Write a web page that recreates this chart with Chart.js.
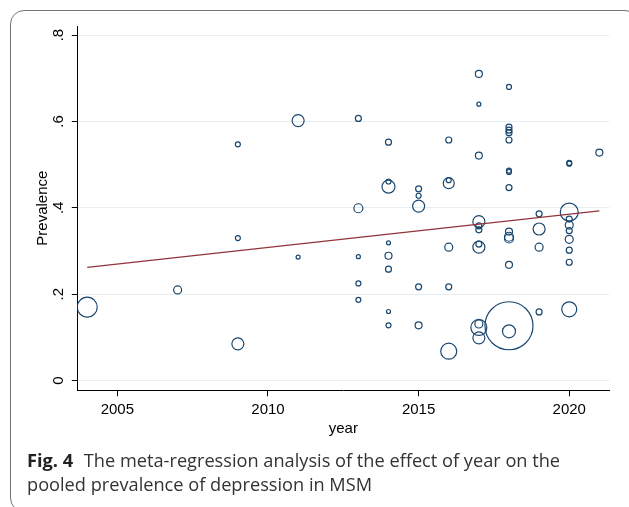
<!DOCTYPE html>
<html>
<head>
<meta charset="utf-8">
<script src="https://cdn.jsdelivr.net/npm/chart.js@4/dist/chart.umd.min.js"></script>
<style>
  html, body { margin: 0; padding: 0; background: #ffffff; }
  body { width: 629px; height: 507px; position: relative; overflow: hidden; }
  #frame { position: absolute; left: 10px; top: 9.5px; width: 629px; height: 502px;
           border: 1.5px solid #737373; border-radius: 14px; box-sizing: border-box; }
  #wrap { position: absolute; left: 0; top: 0; width: 629px; height: 507px; }
  #caption { position: absolute; left: 27px; top: 447.5px; font-family: "Open Sans", sans-serif;
             font-size: 18.2px; line-height: 24px; color: #333333; white-space: nowrap; }
  #caption b { color: #222222; font-weight: 700; margin-right: 6px; }
</style>
</head>
<body>
<div id="frame"></div>
<div id="wrap"><canvas id="c" width="629" height="507"></canvas></div>
<div id="caption"><b>Fig. 4</b> The meta-regression analysis of the effect of year on the<br>pooled prevalence of depression in MSM</div>
<script>
// ---- data ----
const years = [
  2004,
  2007,
  2009, 2009, 2009,
  2011, 2011,
  2013, 2013, 2013, 2013, 2013,
  2014, 2014, 2014, 2014, 2014, 2014, 2014, 2014,
  2015, 2015, 2015, 2015, 2015,
  2016, 2016, 2016, 2016, 2016, 2016,
  2017, 2017, 2017, 2017, 2017, 2017, 2017, 2017, 2017, 2017, 2017,
  2018, 2018, 2018, 2018, 2018, 2018, 2018, 2018, 2018, 2018, 2018, 2018, 2018, 2018,
  2019, 2019, 2019, 2019,
  2020, 2020, 2020, 2020, 2020, 2020, 2020, 2020, 2020, 2020,
  2021
];
const prevalence = [
  0.170,
  0.210,
  0.547, 0.330, 0.085,
  0.602, 0.286,
  0.607, 0.399, 0.287, 0.225, 0.187,
  0.552, 0.461, 0.449, 0.319, 0.289, 0.258, 0.160, 0.128,
  0.444, 0.428, 0.404, 0.217, 0.128,
  0.557, 0.464, 0.457, 0.309, 0.217, 0.068,
  0.710, 0.640, 0.521, 0.368, 0.358, 0.349, 0.316, 0.309, 0.131, 0.123, 0.099,
  0.680, 0.587, 0.580, 0.574, 0.557, 0.486, 0.483, 0.447, 0.345, 0.333, 0.329, 0.268, 0.127, 0.114,
  0.386, 0.351, 0.309, 0.159,
  0.504, 0.502, 0.390, 0.374, 0.360, 0.347, 0.327, 0.302, 0.274, 0.165,
  0.528
];
// study weights (shown as bubble size)
const weights = [
  10,
  4,
  2.5, 2.5, 6,
  6, 2,
  3, 4.5, 2, 2.5, 2.5,
  3, 2.5, 6.5, 2, 3.5, 3, 2, 2.5,
  3, 2.5, 6, 3, 3.5,
  3, 2.5, 5.5, 4, 3, 8,
  3.5, 2, 3.5, 6, 3, 3, 3, 6, 4, 8, 6,
  2.5, 3, 3, 3, 3, 2.5, 2.5, 3, 3.5, 4.5, 4.5, 3.5, 24, 6.5,
  3, 6, 4, 3,
  2.5, 2.5, 9, 3, 4, 3, 4, 3, 3, 7.5,
  3.5
];
// fitted meta-regression line (end points)
const fitYears = [2004, 2021];
const fitValues = [0.262, 0.393];

const xTicks = [2005, 2010, 2015, 2020];
const yTicks = [0, 0.2, 0.4, 0.6, 0.8];
const yTickLabels = ["0", ".2", ".4", ".6", ".8"];

// ---- chart ----
const bubbles = years.map((yr, i) => ({ x: yr, y: prevalence[i], r: weights[i] }));
const fitLine = fitYears.map((yr, i) => ({ x: yr, y: fitValues[i] }));

const FONT = { family: "'Liberation Sans', Arial, sans-serif", size: 15 };
const PLOT_LEFT = 77.3, PLOT_RIGHT = 609.3, PLOT_TOP = 26, PLOT_BOTTOM = 390.3;

new Chart(document.getElementById('c'), {
  data: {
    datasets: [
      { type: 'line', data: fitLine, borderColor: '#90353b', borderWidth: 1.3,
        pointRadius: 0, fill: false, order: 0 },
      { type: 'bubble', data: bubbles, borderColor: '#1a476f', backgroundColor: 'rgba(0,0,0,0)',
        borderWidth: 1.2, order: 1 }
    ]
  },
  options: {
    responsive: false,
    animation: false,
    events: [],
    layout: { autoPadding: false,
              padding: { left: 33, top: PLOT_TOP, right: 629 - PLOT_RIGHT, bottom: 507 - PLOT_BOTTOM - 50 } },
    plugins: { legend: { display: false }, tooltip: { enabled: false } },
    scales: {
      x: {
        type: 'linear', position: 'bottom',
        min: 2003.67, max: 2021.33,
        afterBuildTicks: (s) => { s.ticks = xTicks.map(v => ({ value: v })); },
        afterFit: (s) => { s.height = 50; },
        ticks: { font: FONT, color: '#000', padding: 5, maxRotation: 0, autoSkip: false,
                 callback: (v) => String(v) },
        grid: { display: true, drawOnChartArea: false, drawTicks: true, tickLength: 6,
                tickColor: '#000', tickWidth: 1 },
        border: { display: true, color: '#000', width: 1 },
        title: { display: true, text: 'year', font: FONT, color: '#000', padding: { top: 0, bottom: 2 } }
      },
      y: {
        type: 'linear', position: 'left',
        min: -0.0225, max: 0.821,
        afterBuildTicks: (s) => { s.ticks = yTicks.map(v => ({ value: v })); },
        afterFit: (s) => { s.width = PLOT_LEFT - 33; },
        ticks: { font: FONT, color: '#000', padding: 6.5, minRotation: 90, maxRotation: 90,
                 crossAlign: 'center', autoSkip: false,
                 callback: (v) => yTickLabels[yTicks.indexOf(v)] },
        grid: { display: true, drawOnChartArea: true, drawTicks: true, tickLength: 5.5,
                color: '#e6eef0', lineWidth: 1, tickColor: '#000', tickWidth: 1 },
        border: { display: true, color: '#000', width: 1 },
        title: { display: true, text: 'Prevalence', font: FONT, color: '#000', padding: { top: 1, bottom: 0 } }
      }
    }
  }
});
</script>
</body>
</html>
